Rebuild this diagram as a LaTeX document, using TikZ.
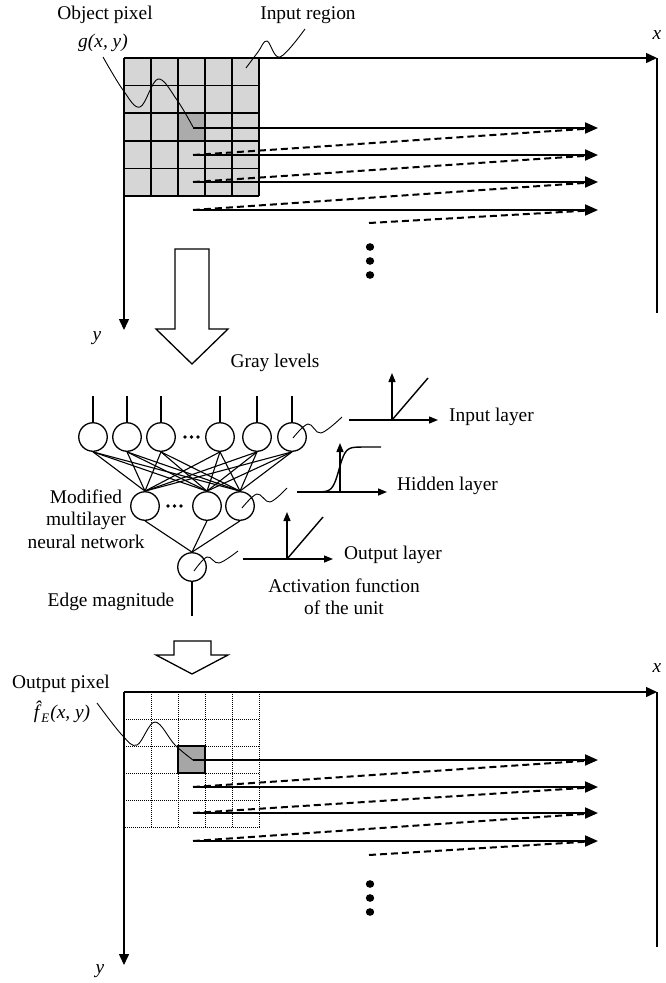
\documentclass[tikz,border=0pt]{standalone}
\usepackage{fontspec}
\setmainfont{Liberation Serif}
\usetikzlibrary{arrows.meta}
\begin{document}
\begin{tikzpicture}[x=1pt,y=-1pt,
  txt/.style={font=\fontsize{19.4}{22.5}\selectfont, inner sep=0pt},
  ax/.style={line width=1.5pt,-{Triangle[length=11pt,width=10pt]}},
  scan/.style={line width=2pt,-{Triangle[length=13pt,width=11pt]}},
  retrace/.style={line width=2pt,dash pattern=on 7pt off 4pt},
  gridline/.style={line width=1.5pt},
  dotline/.style={line width=1pt,dash pattern=on 1pt off 1pt},
  neuron/.style={circle,draw,line width=1.3pt,minimum size=28.5pt,inner sep=0pt},
  link/.style={line width=1.1pt},
  lead/.style={line width=0.9pt},
  fa/.style={line width=1.4pt,-{Triangle[length=9pt,width=7pt]}},
  fline/.style={line width=1.4pt},
  hollow/.style={draw,line width=1.3pt,fill=white},
]
\useasboundingbox (0,0) rectangle (666,983);

% ---------- top grid ----------
\fill[black!16] (124,58) rectangle (259,196);
\fill[black!33] (178,113.2) rectangle (205,140.8);
\foreach \x in {151,178,205,232,259} \draw[gridline] (\x,58) -- (\x,196);
\foreach \y in {85.6,113.2,140.8,168.4,196} \draw[gridline] (124,\y) -- (259,\y);

% axes top
\coordinate (o1) at (124,58);
\coordinate (xe1) at (657,58);
\coordinate (ye1) at (124,330);
\coordinate (re1) at (657,313);
\draw[ax] (o1) -- (xe1);
\draw[ax] (o1) -- (ye1);
\draw[line width=1.5pt] (xe1) -- (re1);
\node[txt] (xl1) at (657,35) {\textit{x}};
\node[txt] (yl1) at (97,338) {\textit{y}};

% scan lines top
\foreach \i/\y in {1/128,2/155,3/182,4/210} {
  \coordinate (ts\i) at (193,\y);
  \coordinate (te\i) at (598,\y);
}
\coordinate (ts5) at (369,223);
\foreach \i in {1,2,3,4} \draw[scan] (ts\i) -- (te\i);
\draw[retrace] (ts2) -- (te1);
\draw[retrace] (ts3) -- (te2);
\draw[retrace] (ts4) -- (te3);
\draw[retrace] (ts5) -- (te4);
\foreach \y in {247,261,275} \fill (370,\y) ellipse (4.2 and 3.8);

% labels top
\node[txt] (objlbl) at (105,15) {Object pixel};
\node[txt] (gxy) at (103,43) {\textit{g(x, y)}};
\node[txt] (inreg) at (308,15) {Input region};
\draw[lead] plot[smooth,tension=0.6] coordinates {(103,57) (123,90) (140,107) (158,79) (177,100) (193,127)};
\draw[lead] plot[smooth,tension=0.6] coordinates {(246,68) (258,52) (267,41) (280,57) (305,29)};

% hollow arrow 1
\draw[hollow] (175,249) -- (209,249) -- (209,329) -- (228,329) -- (192,364) -- (156,329) -- (175,329) -- cycle;

\node[txt] (gray) at (275,363) {Gray levels};

% ---------- network ----------
\foreach \n/\x in {1/93,2/127,3/161,4/220,5/257,6/292} {
  \node[neuron] (i\n) at (\x,437) {};
  \draw[fline] (i\n.north) -- ++(0,-26);
}
\foreach \n/\x in {1/145,2/207,3/240} \node[neuron] (h\n) at (\x,506) {};
\node[neuron] (out) at (192,567) {};
\foreach \a in {1,...,6} \foreach \b in {1,2,3} \draw[link] (i\a.south) -- (h\b.north);
\foreach \b in {1,2,3} \draw[link] (h\b.south) -- (out.north);
\draw[fline] (out.south) -- ++(0,34);
\foreach \x in {185,191.5,198} \fill (\x,437) circle (1.9);
\foreach \x in {168,174.5,181} \fill (\x,506) circle (1.9);

\node[txt,align=center] (mmnn) at (86,519) {Modified\\multilayer\\neural network};
\node[txt] (edge) at (111,602) {Edge magnitude};

% leaders to activation functions
\draw[lead] plot[smooth,tension=0.6] coordinates {(293,438) (308,424) (321,433) (342,417)};
\draw[lead] plot[smooth,tension=0.6] coordinates {(242,508) (257,494) (270,502) (287,488)};
\draw[lead] plot[smooth,tension=0.6] coordinates {(194,571) (207,557) (219,563) (238,551)};

% activation: input layer
\draw[fa] (349,420) -- (438,420);
\draw[fa] (392,420) -- (392,373);
\draw[fline] (392,420) -- (428,378);
\node[txt,anchor=west] (inl) at (449,417) {Input layer};
% hidden layer
\draw[fa] (297,492) -- (387,492);
\draw[fa] (340,492) -- (340,443);
\draw[fline,domain=316:381,samples=70] plot (\x,{492-45/(1+exp(-(\x-339)/3.2))});
\node[txt,anchor=west] (hil) at (397,486) {Hidden layer};
% output layer
\draw[fa] (243,559) -- (333,559);
\draw[fa] (287,559) -- (287,512);
\draw[fline] (287,559) -- (323,517);
\node[txt,anchor=west] (oul) at (344,555) {Output layer};

\node[txt,align=center] (actf) at (344,597) {Activation function\\of the unit};

% hollow arrow 2
\draw[hollow] (174,641) -- (211,641) -- (211,655) -- (228,655) -- (192,674) -- (156,655) -- (174,655) -- cycle;

% ---------- bottom grid ----------
\fill[black!35] (178,746) rectangle (205,773);
\foreach \x in {151,178,205,232} \draw[dotline] (\x,692) -- (\x,827);
\foreach \y in {719,746,773,800} \draw[dotline] (124,\y) -- (259,\y);
\draw[dotline] (259,692) -- (259,827) -- (124,827);
\draw[gridline] (178,746) rectangle (205,773);

\coordinate (o2) at (124,692);
\coordinate (xe2) at (657,692);
\coordinate (ye2) at (124,965);
\coordinate (re2) at (657,947);
\draw[ax] (o2) -- (xe2);
\draw[ax] (o2) -- (ye2);
\draw[line width=1.5pt] (xe2) -- (re2);
\node[txt] (xl2) at (657,668) {\textit{x}};
\node[txt] (yl2) at (100,971) {\textit{y}};

\foreach \i/\y in {1/760,2/787,3/813,4/841} {
  \coordinate (bs\i) at (193,\y);
  \coordinate (be\i) at (598,\y);
}
\coordinate (bs5) at (369,855);
\foreach \i in {1,2,3,4} \draw[scan] (bs\i) -- (be\i);
\draw[retrace] (bs2) -- (be1);
\draw[retrace] (bs3) -- (be2);
\draw[retrace] (bs4) -- (be3);
\draw[retrace] (bs5) -- (be4);
\foreach \y in {884,898,912} \fill (370,\y) ellipse (4.2 and 3.8);

\node[txt] (outpix) at (61,684) {Output pixel};
\node[txt] (fhat) at (62,712) {\textit{\^{f}}\kern-5pt\raisebox{-4pt}{\fontsize{13}{13}\selectfont\itshape E}\kern1pt\textit{(x, y)}};
\draw[lead] plot[smooth,tension=0.6] coordinates {(97,703) (122,735) (137,745) (155,722) (175,745) (193,760)};
\end{tikzpicture}
\end{document}
